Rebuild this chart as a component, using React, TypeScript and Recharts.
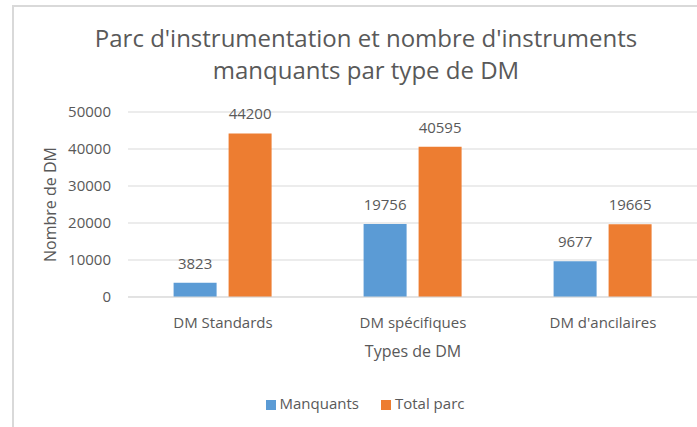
import { BarChart, Bar, XAxis, YAxis, CartesianGrid, Legend, LabelList } from "recharts";

const categories = ["DM Standards", "DM spécifiques", "DM d'ancilaires"];
const manquants = [3823, 19756, 9677];
const totalParc = [44200, 40595, 19665];
const yTicks = [0, 10000, 20000, 30000, 40000, 50000];

const data = categories.map((name, i) => ({
  name,
  manquants: manquants[i],
  total: totalParc[i],
}));

const FONT = "'Open Sans', 'Liberation Sans', sans-serif";
const GREY = "#595959";

export default function App() {
  return (
    <div style={{ position: "absolute", left: 0, top: 0, width: 697, height: 427, overflow: "hidden", background: "#fff", fontFamily: FONT }}>
      {/* chart frame */}
      <div style={{ position: "absolute", left: 12, top: 5, width: 700, height: 440, borderTop: "2px solid #d9d9d9", borderLeft: "2px solid #d9d9d9" }} />
      <div style={{ position: "absolute", left: 0, width: 732, top: 22, textAlign: "center", fontSize: 24, lineHeight: "32px", color: GREY }}>
        Parc d'instrumentation et nombre d'instruments
        <br />
        manquants par type de DM
      </div>
      <div style={{ position: "absolute", left: 0, top: 0 }}>
        <BarChart
          width={698}
          height={427}
          data={data}
          margin={{ top: 112, right: 0, left: 0, bottom: 48 }}
          barCategoryGap="24%"
          barGap={12}
        >
          <CartesianGrid vertical={false} stroke="#d9d9d9" strokeWidth={1} />
          <XAxis
            dataKey="name"
            tick={{ fontSize: 15, fill: GREY, fontFamily: FONT }}
            tickLine={false}
            axisLine={{ stroke: "#d9d9d9" }}
            height={62}
            tickMargin={14}
            label={{ value: "Types de DM", position: "insideBottom", offset: 2, fill: GREY, fontSize: 16, fontFamily: FONT }}
          />
          <YAxis
            ticks={yTicks}
            domain={[0, 50000]}
            tick={{ fontSize: 15, fill: GREY, fontFamily: FONT }}
            tickLine={false}
            axisLine={false}
            width={128}
            tickMargin={11}
            label={{ value: "Nombre de DM", angle: -90, position: "insideLeft", offset: 50, fill: GREY, fontFamily: FONT, style: { textAnchor: "middle", fontSize: 16 } }}
          />
          <Legend
            verticalAlign="bottom"
            align="center"
            iconType="square"
            iconSize={10}
            wrapperStyle={{ bottom: 14, left: 27, fontSize: 15, fontFamily: FONT }}
            formatter={(v) => <span style={{ color: GREY, marginRight: 12 }}>{v}</span>}
          />
          <Bar dataKey="manquants" name="Manquants" fill="#5b9bd5" isAnimationActive={false}>
            <LabelList dataKey="manquants" position="top" offset={14} fill={GREY} fontSize={15} fontFamily={FONT} />
          </Bar>
          <Bar dataKey="total" name="Total parc" fill="#ed7d31" isAnimationActive={false}>
            <LabelList dataKey="total" position="top" offset={14} fill={GREY} fontSize={15} fontFamily={FONT} />
          </Bar>
        </BarChart>
      </div>
    </div>
  );
}
